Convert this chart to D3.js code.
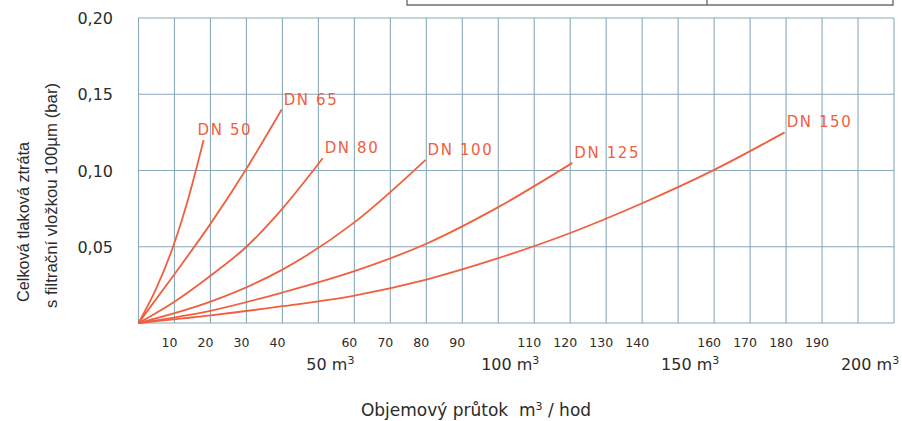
<!DOCTYPE html>
<html>
<head>
<meta charset="utf-8">
<script src="https://cdn.jsdelivr.net/npm/d3@7"></script>
<style>
  body { margin: 0; background: #fff; }
  svg { display: block; }
</style>
</head>
<body>
<svg id="chart"></svg>
<script>
// pressure loss curves

var names = ["DN 50", "DN 65", "DN 80", "DN 100", "DN 125", "DN 150"];

var dn50Q = [0, 5, 9.6, 14, 18.1],
    dn50P = [0, 0.023, 0.05, 0.083, 0.12];
var dn65Q = [0, 10, 20, 29.7, 39.8],
    dn65P = [0, 0.032, 0.065, 0.10, 0.14];
var dn80Q = [0, 10, 20, 30, 40, 51.2],
    dn80P = [0, 0.014, 0.031, 0.050, 0.075, 0.108];
var dn100Q = [0, 20, 40, 60, 79.8],
    dn100P = [0, 0.014, 0.035, 0.066, 0.107];
var dn125Q = [0, 20, 40, 60, 80, 100, 120.6],
    dn125P = [0, 0.008, 0.020, 0.034, 0.052, 0.076, 0.105];
var dn150Q = [0, 20, 40, 60, 80, 100, 120, 140, 160, 179.6],
    dn150P = [0, 0.005, 0.011, 0.018, 0.0285, 0.0425, 0.059, 0.0785, 0.1004, 0.125];

var xMinorTicks = [10, 20, 30, 40, 60, 70, 80, 90, 110, 120, 130, 140, 160, 170, 180, 190];
var xMajorTicks = [50, 100, 150, 200];
var yTicks = [0.05, 0.10, 0.15, 0.20];
var yTickLabels = ["0,05", "0,10", "0,15", "0,20"];

var series = [
    { name: names[0], q: dn50Q, p: dn50P },
    { name: names[1], q: dn65Q, p: dn65P },
    { name: names[2], q: dn80Q, p: dn80P },
    { name: names[3], q: dn100Q, p: dn100P },
    { name: names[4], q: dn125Q, p: dn125P },
    { name: names[5], q: dn150Q, p: dn150P }
];

var width = 902, height = 421;
var red = "#f0603f", gridCol = "#8aa9b9", textCol = "#2b2b2b";

var svg = d3.select("#chart")
    .attr("width", width)
    .attr("height", height)

var x = d3.scaleLinear().domain([0, 210]).range([138.5, 894]);
var y = d3.scaleLinear().domain([0, 0.2]).range([323, 18]);

// cut-off table above the chart
var tbl = svg.append("g")
    .attr("stroke", "#6f6f6f")
    .attr("stroke-width", 1.4)
    .attr("fill", "none")
tbl.append("path").attr("d", "M407,-2V5H893V-2")
tbl.append("path").attr("d", "M707,-2V5")

// grid
var grid = svg.append("g")
    .attr("stroke", gridCol)
    .attr("stroke-width", 1.1)

grid.selectAll(".vx")
    .data(d3.range(10, 211, 10))
    .join("line")
    .attr("x1", d => x(d)).attr("x2", d => x(d))
    .attr("y1", y(0.2)).attr("y2", y(0))

grid.selectAll(".hy")
    .data(yTicks)
    .join("line")
    .attr("x1", x(0)).attr("x2", x(210))
    .attr("y1", d => y(d)).attr("y2", d => y(d))

grid.append("line")
    .attr("x1", x(0)).attr("x2", x(0))
    .attr("y1", y(0.2)).attr("y2", y(0))
grid.append("line")
    .attr("x1", x(0)).attr("x2", x(210))
    .attr("y1", y(0)).attr("y2", y(0))

// y tick labels
svg.append("g")
    .selectAll("text")
    .data(yTicks)
    .join("text")
    .attr("x", 113)
    .attr("y", d => y(d) + 6)
    .attr("text-anchor", "end")
    .attr("font-family", "DejaVu Sans, sans-serif")
    .attr("font-size", 16)
    .attr("fill", textCol)
    .text((d, i) => yTickLabels[i])

// small x tick labels
svg.append("g")
    .selectAll("text")
    .data(xMinorTicks)
    .join("text")
    .attr("x", d => x(d) - 5)
    .attr("y", 346.5)
    .attr("text-anchor", "middle")
    .attr("font-family", "DejaVu Sans, sans-serif")
    .attr("font-size", 12.5)
    .attr("fill", textCol)
    .text(d => d)

// big x labels with m3
var big = svg.append("g")
    .selectAll("text")
    .data(xMajorTicks)
    .join("text")
    .attr("x", d => x(d) + 12)
    .attr("y", 370)
    .attr("text-anchor", "middle")
    .attr("font-family", "DejaVu Sans, sans-serif")
    .attr("font-size", 16)
    .attr("fill", textCol)
big.append("tspan").text(d => d + " m")
big.append("tspan").attr("dy", -6).attr("font-size", 11).text("3")

// axis titles
svg.append("text")
    .attr("transform", "translate(29,302) rotate(-90)")
    .attr("font-family", "Liberation Sans, Arial, sans-serif")
    .attr("font-size", 16.3)
    .attr("fill", textCol)
    .text("Celková tlaková ztráta")

svg.append("text")
    .attr("transform", "translate(57,308) rotate(-90)")
    .attr("font-family", "Liberation Sans, Arial, sans-serif")
    .attr("font-size", 16.8)
    .attr("fill", textCol)
    .text("s filtrační vložkou 100µm (bar)")

var xt = svg.append("text")
    .attr("x", 476)
    .attr("y", 416)
    .attr("text-anchor", "middle")
    .attr("font-family", "DejaVu Sans, sans-serif")
    .attr("font-size", 17)
    .attr("fill", textCol)
    .attr("xml:space", "preserve")
xt.append("tspan").text("Objemový průtok  m")
xt.append("tspan").attr("dy", -6).attr("font-size", 11).text("3")
xt.append("tspan").attr("dy", 6).text(" / hod")

// curves
var line = d3.line()
    .x(d => x(d[0]))
    .y(d => y(d[1]))
    .curve(d3.curveMonotoneX)

svg.append("g")
    .selectAll("path")
    .data(series)
    .join("path")
    .attr("d", s => line(s.q.map((q, i) => [q, s.p[i]])))
    .attr("fill", "none")
    .attr("stroke", red)
    .attr("stroke-width", 1.8)

// curve labels near the end of each line; the steep DN 50 one sits a bit to the left
svg.append("g")
    .selectAll("text")
    .data(series)
    .join("text")
    .attr("x", (s, i) => x(s.q[s.q.length - 1]) + (i == 0 ? -6 : 2))
    .attr("y", s => y(s.p[s.p.length - 1]) - 5)
    .attr("font-family", "DejaVu Sans, sans-serif")
    .attr("font-size", 15)
    .attr("letter-spacing", 1.6)
    .attr("fill", red)
    .text(s => s.name)
</script>
</body>
</html>
